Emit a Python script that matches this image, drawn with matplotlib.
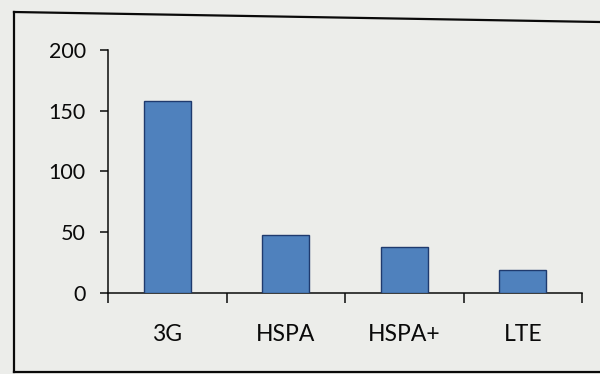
import matplotlib
matplotlib.use("Agg")
import matplotlib.pyplot as plt
from matplotlib.lines import Line2D

categories = ["3G", "HSPA", "HSPA+", "LTE"]
values = [158, 48, 38, 19]
y_ticks = [0, 50, 100, 150, 200]

plt.rcParams['font.family'] = ['Lato', 'DejaVu Sans']

bg = "#ecedea"
fig = plt.figure(figsize=(6.0, 3.74), dpi=100, facecolor=bg)
ax = fig.add_axes([0.18, 0.2166, 0.79, 0.65])
ax.set_facecolor(bg)

x = list(range(len(categories)))
ax.bar(x, values, width=0.4, color="#4f81bd", edgecolor="#1f3a6e", linewidth=1.0, zorder=3)

ax.set_xlim(-0.5, len(categories) - 0.5)
ax.set_ylim(0, 200)
ax.set_yticks(y_ticks)
ax.tick_params(axis="y", length=6, width=1.1, pad=10, labelsize=15.5, colors="#0a0a0a")

# category boundaries carry the tick marks, labels sit under the bar centres
ax.set_xticks([i - 0.5 for i in range(len(categories) + 1)])
ax.set_xticklabels([])
ax.set_xticks(x, minor=True)
ax.set_xticklabels(categories, minor=True)
ax.tick_params(axis="x", which="major", length=7, width=1.1, direction="out", colors="#0a0a0a")
ax.tick_params(axis="x", which="minor", length=0, pad=22, labelsize=16.5, colors="#0a0a0a")

for side in ("top", "right"):
    ax.spines[side].set_visible(False)
for side in ("left", "bottom"):
    ax.spines[side].set_linewidth(1.1)
    ax.spines[side].set_color("#0a0a0a")

# outer frame around the chart
W, H = 600, 374
frame = [((14, 372), (14, 12)), ((14, 12), (600, 22)), ((14, 372), (600, 372))]
for (x0, y0), (x1, y1) in frame:
    fig.add_artist(Line2D([x0 / W, x1 / W], [1 - y0 / H, 1 - y1 / H],
                          transform=fig.transFigure, color="#0a0a0a", linewidth=1.6))

fig.savefig("out.png", dpi=100, facecolor=bg)
